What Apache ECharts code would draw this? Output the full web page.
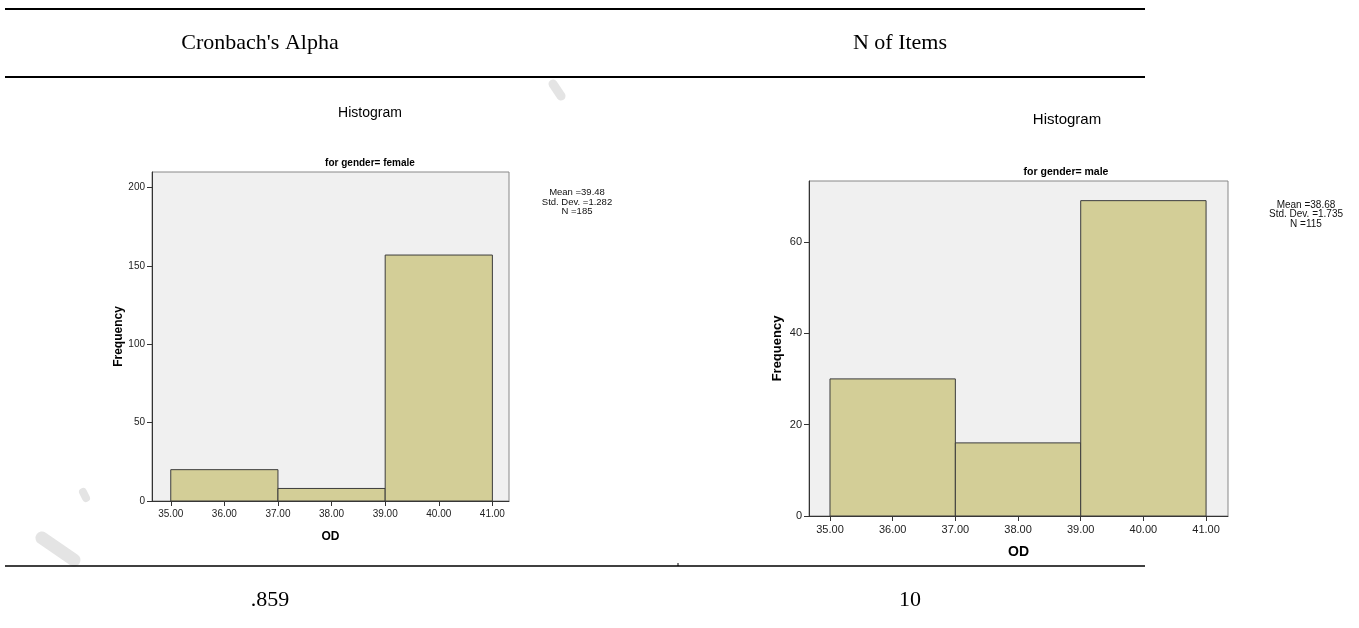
<!DOCTYPE html>
<html><head><meta charset="utf-8">
<script src="https://cdn.jsdelivr.net/npm/echarts@6/dist/echarts.min.js"></script>
<style>html,body{margin:0;padding:0;background:#fff}#c{width:1359px;height:628px}</style>
</head><body><div id="c"></div>
<script>
const xTicks = [35, 36, 37, 38, 39, 40, 41];
const binEdges = [[35, 37], [37, 39], [39, 41]];
const femaleCounts = [20, 8, 157];
const maleCounts = [30, 16, 69];
const femaleYTicks = [0, 50, 100, 150, 200];
const maleYTicks = [0, 20, 40, 60];
const femaleStats = ['Mean =39.48', 'Std. Dev. =1.282', 'N =185'];
const maleStats = ['Mean =38.68', 'Std. Dev. =1.735', 'N =115'];
const tableHeaders = ["Cronbach's Alpha", 'N of Items'];
const tableValues = ['.859', '10'];
const chartTitle = 'Histogram';
const subTitles = ['for gender= female', 'for gender= male'];
const xName = 'OD';
const yName = 'Frequency';

const SANS = 'Liberation Sans, Arial, sans-serif';
const SERIF = 'Liberation Serif, Times New Roman, serif';
const chart = echarts.init(document.getElementById('c'), null, {renderer: 'canvas'});

function binData(counts) { return binEdges.map((e, i) => [e[0], e[1], counts[i]]); }
function renderBar(params, api) {
  const a = api.coord([api.value(0), api.value(2)]);
  const b = api.coord([api.value(1), 0]);
  return {type: 'rect', shape: {x: a[0], y: a[1], width: b[0] - a[0], height: b[1] - a[1]},
    style: {fill: '#d3ce97', stroke: '#3c3c3c', lineWidth: 1}};
}
function xAxisCfg(idx, min, max, nameGap, fs, nfs) {
  return {type: 'value', gridIndex: idx, min: min, max: max,
    name: xName, nameLocation: 'middle', nameGap: nameGap,
    nameTextStyle: {fontFamily: SANS, fontWeight: 'bold', fontSize: nfs, color: '#000'},
    axisLine: {show: true, onZero: false, lineStyle: {color: '#333', width: 1}},
    axisTick: {show: true, length: 5, customValues: xTicks, lineStyle: {color: '#333'}},
    axisLabel: {customValues: xTicks, margin: 8, fontFamily: SANS, fontSize: fs, color: '#222',
      formatter: v => v.toFixed(2)},
    splitLine: {show: false}};
}
function yAxisCfg(idx, max, ticks, nameGap, fs, nfs) {
  return {type: 'value', gridIndex: idx, min: 0, max: max,
    name: yName, nameLocation: 'middle', nameGap: nameGap, nameRotate: 90,
    nameTextStyle: {fontFamily: SANS, fontWeight: 'bold', fontSize: nfs, color: '#000'},
    axisLine: {show: true, lineStyle: {color: '#333', width: 1}},
    axisTick: {show: true, length: 5, customValues: ticks, lineStyle: {color: '#333'}},
    axisLabel: {customValues: ticks, margin: 7, fontFamily: SANS, fontSize: fs, color: '#222'},
    splitLine: {show: false}};
}
function statText(x, y, lines, fs, lh) {
  return {type: 'text', x: x, y: y, style: {text: lines.join('\n'), fill: '#111',
    font: fs + 'px ' + SANS, textAlign: 'center', textVerticalAlign: 'top', lineHeight: lh}};
}
function wm(x1, y1, x2, y2, w) {
  return {type: 'line', shape: {x1: x1, y1: y1, x2: x2, y2: y2},
    style: {stroke: '#e4e4e4', lineWidth: w, lineCap: 'round'}, z: -1};
}
function txt(x, y, s, font) {
  return {type: 'text', x: x, y: y, style: {text: s, font: font, fill: '#000', textAlign: 'center', textVerticalAlign: 'middle'}};
}

const option = {
  backgroundColor: '#fff',
  animation: false,
  grid: [
    {left: 152, top: 172, width: 357, height: 329, show: true, backgroundColor: '#f0f0f0', borderColor: '#888', borderWidth: 1},
    {left: 809, top: 181, width: 419, height: 335, show: true, backgroundColor: '#f0f0f0', borderColor: '#888', borderWidth: 1}
  ],
  xAxis: [xAxisCfg(0, 34.65, 41.31, 30, 10, 12), xAxisCfg(1, 34.665, 41.35, 29, 11, 14)],
  yAxis: [yAxisCfg(0, 210, femaleYTicks, 27, 10, 12), yAxisCfg(1, 73.3, maleYTicks, 25, 11, 13)],
  series: [
    {type: 'custom', xAxisIndex: 0, yAxisIndex: 0, renderItem: renderBar, data: binData(femaleCounts), encode: {x: [0, 1], y: 2}},
    {type: 'custom', xAxisIndex: 1, yAxisIndex: 1, renderItem: renderBar, data: binData(maleCounts), encode: {x: [0, 1], y: 2}}
  ],
  graphic: [
    wm(42, 538, 74, 560, 13), wm(83, 492, 86, 498, 8), wm(553, 84, 561, 96, 9),
    {type: 'line', shape: {x1: 5, y1: 9, x2: 1145, y2: 9}, style: {stroke: '#000', lineWidth: 2}},
    {type: 'line', shape: {x1: 5, y1: 77, x2: 1145, y2: 77}, style: {stroke: '#000', lineWidth: 2}},
    {type: 'line', shape: {x1: 5, y1: 566, x2: 1145, y2: 566}, style: {stroke: '#000', lineWidth: 1.5}},
    {type: 'line', shape: {x1: 678, y1: 563, x2: 678, y2: 566}, style: {stroke: '#000', lineWidth: 1}},
    txt(260, 43, tableHeaders[0], '22px ' + SERIF),
    txt(900, 43, tableHeaders[1], '22px ' + SERIF),
    txt(270, 600, tableValues[0], '22px ' + SERIF),
    txt(910, 600, tableValues[1], '22px ' + SERIF),
    txt(370, 113, chartTitle, '14px ' + SANS),
    txt(1067, 120, chartTitle, '15px ' + SANS),
    txt(370, 163, subTitles[0], 'bold 10px ' + SANS),
    txt(1066, 172, subTitles[1], 'bold 10.5px ' + SANS),
    statText(577, 188, femaleStats, 9.5, 9.5),
    statText(1306, 200, maleStats, 10, 9.5)
  ]
};
chart.setOption(option);
</script></body></html>
